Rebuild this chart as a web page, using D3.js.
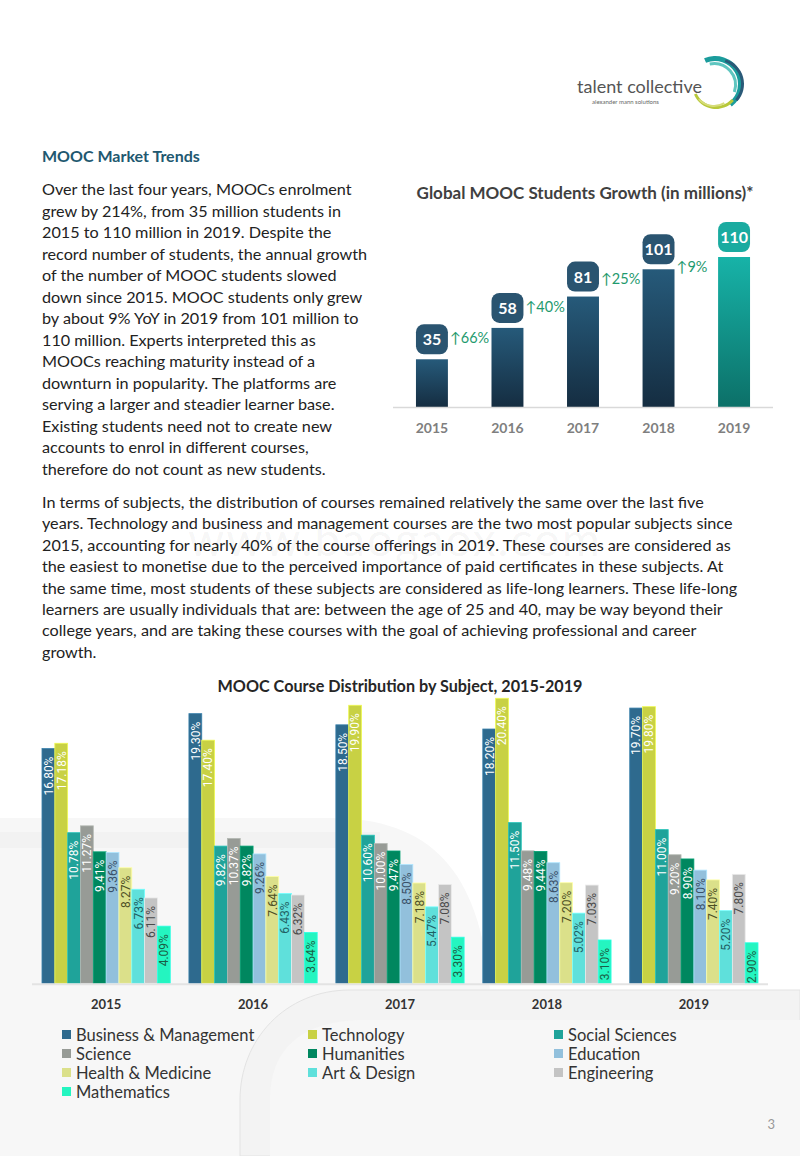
<!DOCTYPE html>
<html>
<head>
<meta charset="utf-8">
<script src="https://cdn.jsdelivr.net/npm/d3@7"></script>
<style>
  body { margin: 0; background: #fff; }
  svg { display: block; font-family: Lato, "Liberation Sans", sans-serif; }
</style>
</head>
<body>
<svg id="page" width="800" height="1156"></svg>
<script>
// growth chart data
const growthYears = ['2015', '2016', '2017', '2018', '2019'];
const growthStudents = [35, 58, 81, 101, 110];
const growthChange = ['66%', '40%', '25%', '9%'];

// course distribution data (share of course offerings, %)
const courseYears = ['2015', '2016', '2017', '2018', '2019'];
const subjects = ['Business & Management', 'Technology', 'Social Sciences', 'Science', 'Humanities',
  'Education', 'Health & Medicine', 'Art & Design', 'Engineering', 'Mathematics'];
const shareBusiness = [16.80, 19.30, 18.50, 18.20, 19.70];
const shareTechnology = [17.18, 17.40, 19.90, 20.40, 19.80];
const shareSocial = [10.78, 9.82, 10.60, 11.50, 11.00];
const shareScience = [11.27, 10.37, 10.00, 9.48, 9.20];
const shareHumanities = [9.41, 9.82, 9.47, 9.44, 8.90];
const shareEducation = [9.36, 9.26, 8.50, 8.63, 8.10];
const shareHealth = [8.27, 7.64, 7.18, 7.20, 7.40];
const shareArt = [6.73, 6.43, 5.47, 5.02, 5.20];
const shareEngineering = [6.11, 6.32, 7.08, 7.03, 7.80];
const shareMaths = [4.09, 3.64, 3.30, 3.10, 2.90];
const shares = [shareBusiness, shareTechnology, shareSocial, shareScience, shareHumanities,
  shareEducation, shareHealth, shareArt, shareEngineering, shareMaths];

const subjectColors = ['#2e6a8e', '#c8d144', '#1fa39a', '#979b96', '#00875f',
  '#92c0dc', '#dbe08a', '#5fe0db', '#c4c4c4', '#24f5c0'];
const labelColors = ['#fff', '#fff', '#fff', '#fff', '#fff',
  '#3a5068', '#4d4f25', '#1f5f63', '#4a4a4a', '#1b5e46'];

// page text
const introLines = [
  'Over the last four years, MOOCs enrolment',
  'grew by 214%, from 35 million students in',
  '2015 to 110 million in 2019. Despite the',
  'record number of students, the annual growth',
  'of the number of MOOC students slowed',
  'down since 2015. MOOC students only grew',
  'by about 9% YoY in 2019 from 101 million to',
  '110 million. Experts interpreted this as',
  'MOOCs reaching maturity instead of a',
  'downturn in popularity. The platforms are',
  'serving a larger and steadier learner base.',
  'Existing students need not to create new',
  'accounts to enrol in different courses,',
  'therefore do not count as new students.',
];
const subjectLines = [
  'In terms of subjects, the distribution of courses remained relatively the same over the last five',
  'years. Technology and business and management courses are the two most popular subjects since',
  '2015, accounting for nearly 40% of the course offerings in 2019. These courses are considered as',
  'the easiest to monetise due to the perceived importance of paid certificates in these subjects. At',
  'the same time, most students of these subjects are considered as life-long learners. These life-long',
  'learners are usually individuals that are: between the age of 25 and 40, may be way beyond their',
  'college years, and are taking these courses with the goal of achieving professional and career',
  'growth.',
];

const svg = d3.select('#page');

// ---- background decoration ----
const bg = svg.append('g').attr('name', 'background');
bg.append('path')
    .attr('d', 'M0,818 H330 C430,818 480,870 490,990 H800 V1156 H0 Z')
    .attr('fill', '#f7f7f7');
bg.append('rect').attr('x', 0).attr('y', 832).attr('width', 380).attr('height', 16)
    .attr('fill', '#f2f2f2');
bg.append('path')
    .attr('d', 'M240,1156 V1100 C240,1040 285,990 350,990 H800 V1156 Z')
    .attr('fill', '#f3f3f3')
    .attr('stroke', '#e3e3e3');
bg.append('path')
    .attr('d', 'M270,1156 V1100 C270,1050 300,1020 365,1020 H800 V1156 Z')
    .attr('fill', '#f7f7f7');

// ---- logo ----
const logo = svg.append('g').attr('name', 'logo');
const arcGen = d3.arc();
const logoArcs = [
  {cx: 715, cy: 84, inner: 23, outer: 28, start: -0.4, end: 2.5, fill: '#1b9c9c'},
  {cx: 718, cy: 84, inner: 23, outer: 26, start: 0.3, end: 2.3, fill: '#2a5a78'},
  {cx: 714, cy: 85, inner: 20, outer: 23, start: -0.2, end: 1.9, fill: '#5fc6c0'},
  {cx: 716, cy: 85, inner: 21, outer: 24, start: 2.3, end: 4.3, fill: '#b8c83a'},
  {cx: 714, cy: 86, inner: 19, outer: 21, start: 2.6, end: 4.0, fill: '#d6dc7a'},
];
logoArcs.forEach((a) => {
  logo.append('path')
      .attr('transform', `translate(${a.cx},${a.cy})`)
      .attr('d', arcGen({innerRadius: a.inner, outerRadius: a.outer, startAngle: a.start, endAngle: a.end}))
      .attr('fill', a.fill);
});
logo.append('text').attr('x', 577).attr('y', 93)
    .attr('font-size', 18).attr('fill', '#555').text('talent collective');
logo.append('text').attr('x', 592).attr('y', 104)
    .attr('font-size', 6).attr('fill', '#666').text('alexander mann solutions');

// ---- texts ----
svg.append('text').attr('x', 42).attr('y', 162)
    .attr('font-size', 16).attr('font-weight', 'bold').attr('fill', '#215870')
    .text('MOOC Market Trends');

svg.append('g').selectAll('text').data(introLines).join('text')
    .attr('x', 42).attr('y', (d, i) => 195 + i * 21.5)
    .attr('font-size', 16.2).attr('fill', '#222')
    .text((d) => d);

svg.append('g').selectAll('text').data(subjectLines).join('text')
    .attr('x', 42).attr('y', (d, i) => 508 + i * 21.4)
    .attr('font-size', 16.2).attr('fill', '#222')
    .text((d) => d);

// faint watermark
svg.append('text').attr('x', 395).attr('y', 556).attr('text-anchor', 'middle')
    .attr('font-size', 46).attr('fill', '#000').attr('fill-opacity', 0.05)
    .attr('letter-spacing', 2).text('www.baogaox.com');

// ---- growth chart ----
const defs = svg.append('defs');
function addGradient(id, top, bottom) {
  const g = defs.append('linearGradient').attr('id', id)
      .attr('x1', 0).attr('y1', 0).attr('x2', 0).attr('y2', 1);
  g.append('stop').attr('offset', '0%').attr('stop-color', top);
  g.append('stop').attr('offset', '100%').attr('stop-color', bottom);
}
addGradient('gradDark', '#265a7a', '#152d41');
addGradient('gradTeal', '#17b3a8', '#0c7068');

const gx = d3.scaleBand().domain(growthYears).range([393, 773])
    .paddingInner(0.577).paddingOuter(0.304);
const gy = d3.scaleLinear().domain([0, 110]).range([407, 257]);
const growth = svg.append('g').attr('name', 'growth');
const last = growthYears[growthYears.length - 1];

growth.append('text').attr('x', 585).attr('y', 199).attr('text-anchor', 'middle')
    .attr('font-size', 17).attr('font-weight', 'bold').attr('fill', '#404040')
    .text('Global MOOC Students Growth (in millions)*');

growth.selectAll('rect.bar').data(growthYears).join('rect')
    .attr('class', 'bar')
    .attr('x', (d) => gx(d))
    .attr('y', (d, i) => gy(growthStudents[i]))
    .attr('width', gx.bandwidth())
    .attr('height', (d, i) => gy(0) - gy(growthStudents[i]))
    .attr('fill', (d) => d === last ? 'url(#gradTeal)' : 'url(#gradDark)');

growth.append('line')
    .attr('x1', 393).attr('x2', 773).attr('y1', gy(0) + 0.5).attr('y2', gy(0) + 0.5)
    .attr('stroke', '#d9d9d9').attr('stroke-width', 1.5);

const boxes = growth.selectAll('g.box').data(growthYears).join('g')
    .attr('class', 'box')
    .attr('transform', (d, i) => `translate(${gx(d)},${gy(growthStudents[i]) - 35})`);
boxes.append('rect')
    .attr('width', gx.bandwidth()).attr('height', 30).attr('rx', 8)
    .attr('fill', (d) => d === last ? '#1aaba0' : '#2a5470');
boxes.append('text')
    .attr('x', gx.bandwidth() / 2).attr('y', 21).attr('text-anchor', 'middle')
    .attr('font-size', 16).attr('font-weight', 'bold').attr('fill', '#fff')
    .text((d, i) => growthStudents[i]);

growth.selectAll('text.change').data(growthChange).join('text')
    .attr('class', 'change')
    .attr('x', (d, i) => gx(growthYears[i]) + gx.bandwidth() + 2)
    .attr('y', (d, i) => gy(growthStudents[i + 1]) + 15)
    .attr('font-size', 14.5).attr('fill', '#1f9a6e')
    .text((d) => '\u2191' + d);

growth.selectAll('text.year').data(growthYears).join('text')
    .attr('class', 'year')
    .attr('x', (d) => gx(d) + gx.bandwidth() / 2).attr('y', 433)
    .attr('text-anchor', 'middle')
    .attr('font-size', 14).attr('font-weight', 'bold').attr('fill', '#7f7f7f')
    .text((d) => d);

// ---- course distribution chart ----
const cx = d3.scaleBand().domain(courseYears).range([32, 768])
    .paddingInner(0.127).paddingOuter(0.068);
const sx = d3.scaleBand().domain(subjects).range([0, cx.bandwidth()]);
const cy = d3.scaleLinear().domain([0, 21]).range([983.3, 689.9]);
const course = svg.append('g').attr('name', 'course');

course.append('text').attr('x', 400).attr('y', 692).attr('text-anchor', 'middle')
    .attr('font-size', 16.2).attr('font-weight', 'bold').attr('fill', '#262626')
    .text('MOOC Course Distribution by Subject, 2015-2019');

const bars = [];
courseYears.forEach((year, yi) => {
  subjects.forEach((s, si) => {
    bars.push({year: year, subject: s, index: si, value: shares[si][yi]});
  });
});

const groups = course.selectAll('g.cell').data(bars).join('g')
    .attr('class', 'cell')
    .attr('transform', (d) => `translate(${cx(d.year) + sx(d.subject)},0)`);
groups.append('rect')
    .attr('y', (d) => cy(d.value))
    .attr('width', sx.bandwidth())
    .attr('height', (d) => cy(0) - cy(d.value))
    .attr('fill', (d) => subjectColors[d.index])
    .attr('stroke', (d) => d3.color(subjectColors[d.index]).brighter(0.5))
    .attr('stroke-width', 0.8);
groups.append('text')
    .attr('transform', (d) => `translate(${sx.bandwidth() / 2},${cy(d.value) + 8}) rotate(-90)`)
    .attr('dy', '0.36em')
    .attr('text-anchor', 'end')
    .attr('font-family', 'Roboto, sans-serif')
    .attr('font-size', 12)
    .attr('fill', (d) => labelColors[d.index])
    .text((d) => d.value.toFixed(2) + '%');

course.append('line')
    .attr('x1', 32).attr('x2', 768).attr('y1', cy(0) + 1).attr('y2', cy(0) + 1)
    .attr('stroke', '#e3e3e3').attr('stroke-width', 2);

const xAxis = course.append('g')
    .attr('transform', `translate(0,${cy(0) + 13})`)
    .call(d3.axisBottom(cx).tickSize(0));
xAxis.select('.domain').remove();
xAxis.selectAll('text')
    .attr('font-family', 'Lato, sans-serif')
    .attr('font-size', 13).attr('font-weight', 'bold').attr('fill', '#333');

// legend
const legend = course.selectAll('g.legend').data(subjects).join('g')
    .attr('class', 'legend')
    .attr('transform', (d, i) => `translate(${62 + (i % 3) * 246},${1035 + Math.floor(i / 3) * 19})`);
legend.append('rect')
    .attr('x', 0).attr('y', -5).attr('width', 9).attr('height', 9)
    .attr('fill', (d, i) => subjectColors[i]);
legend.append('text')
    .attr('x', 14).attr('y', 5.5)
    .attr('font-size', 16.5).attr('fill', '#333')
    .text((d) => d);

svg.append('text').attr('x', 775).attr('y', 1129).attr('text-anchor', 'end')
    .attr('font-size', 13).attr('fill', '#999').text('3');
</script>
</body>
</html>
